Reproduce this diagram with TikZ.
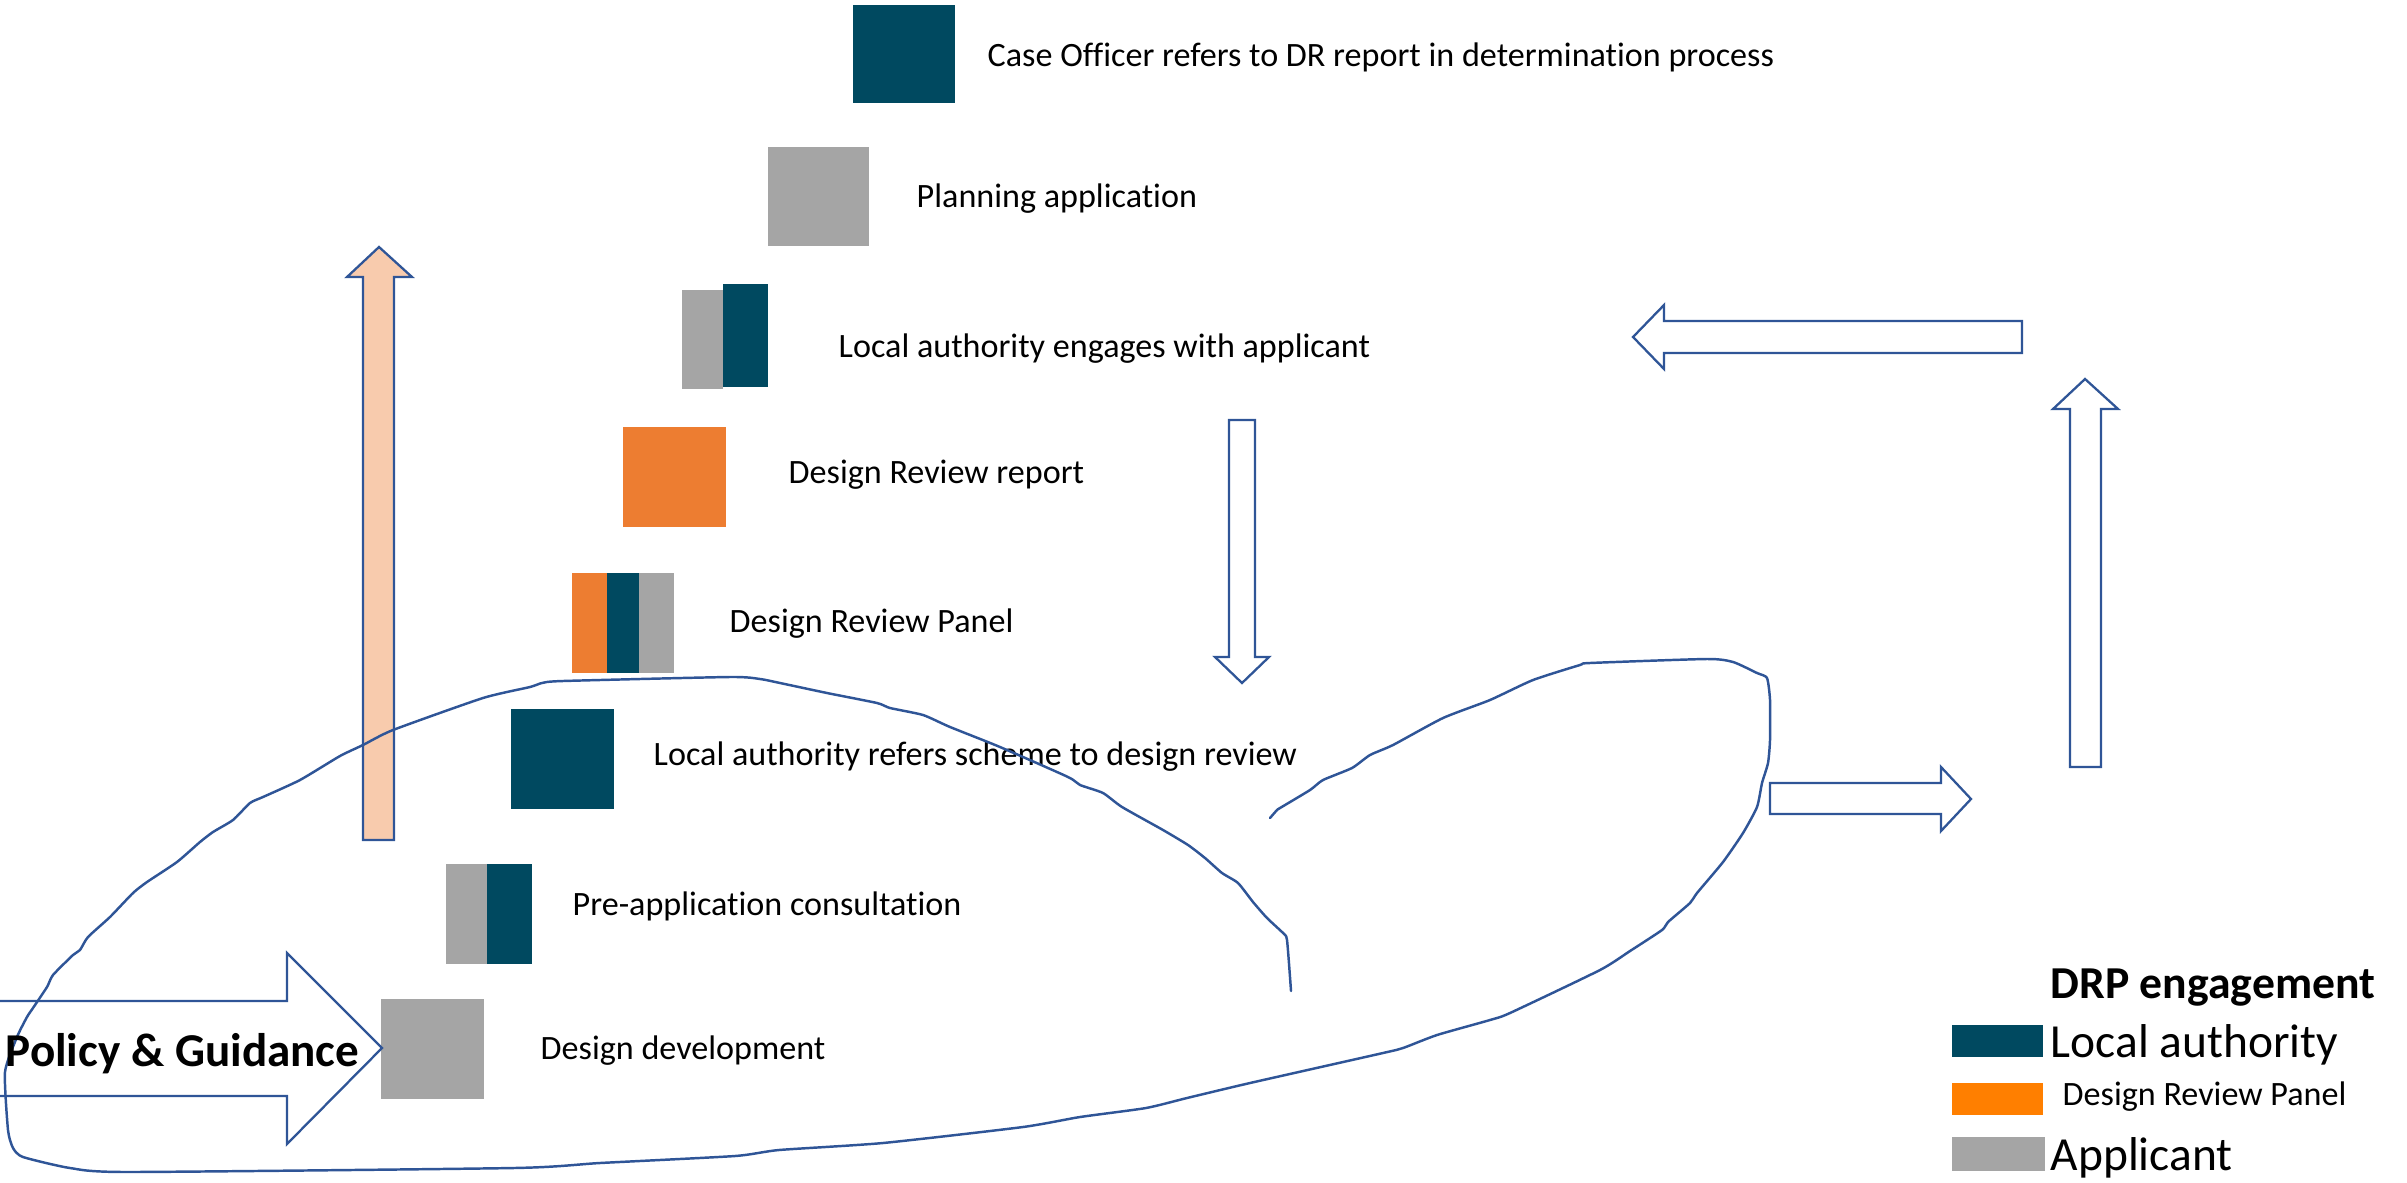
\documentclass[tikz,border=0pt]{standalone}
\usepackage{fontspec}
\setmainfont{Carlito}[Ligatures=NoCommon]
\usepackage{tikz}
\usetikzlibrary{positioning,calc}

\definecolor{lacol}{RGB}{0,73,96}
\definecolor{drpcol}{RGB}{237,125,49}
\definecolor{drplegend}{RGB}{255,127,0}
\definecolor{appcol}{RGB}{165,165,165}
\definecolor{peach}{RGB}{248,203,173}
\definecolor{inkblue}{RGB}{47,85,151}

\begin{document}
\begin{tikzpicture}[
    x=0.01cm, y=-0.01cm,
    box/.style={rectangle, anchor=north west, inner sep=0, outer sep=0, draw=none},
    steptext/.style={anchor=base west, inner sep=0, font=\fontsize{9.7}{11}\selectfont},
    legtext/.style={anchor=base west, inner sep=0, font=\fontsize{13.5}{16}\selectfont},
    blockarrow/.style={draw=inkblue, line width=0.65pt, fill=white, line join=miter},
    freehand/.style={draw=inkblue, line width=0.7pt, line cap=round, line join=round}
]
    \useasboundingbox (0,0) rectangle (2407,1182);

    % Steps, top to bottom
    \node[box, fill=lacol, minimum width=1.02cm, minimum height=0.98cm] (officer) at (853,5) {};
    \node[steptext] (officertext) at (987,67) {Case Officer refers to DR report in determination process};

    \node[box, fill=appcol, minimum width=1.01cm, minimum height=0.99cm] (planning) at (768,147) {};
    \node[steptext] (planningtext) at (916,208) {Planning application};

    \node[box, fill=appcol, minimum width=0.41cm, minimum height=0.99cm] (engageA) at (682,290) {};
    \node[box, fill=lacol, minimum width=0.45cm, minimum height=1.03cm] (engageB) at (723,284) {};
    \node[steptext] (engagetext) at (838,357) {Local authority engages with applicant};

    \node[box, fill=drpcol, minimum width=1.03cm, minimum height=1.00cm] (report) at (623,427) {};
    \node[steptext] (reporttext) at (788,483) {Design Review report};

    \node[box, fill=drpcol, minimum width=0.35cm, minimum height=1.00cm] (panelA) at (572,573) {};
    \node[box, fill=lacol, minimum width=0.32cm, minimum height=1.00cm] (panelB) at (607,573) {};
    \node[box, fill=appcol, minimum width=0.35cm, minimum height=1.00cm] (panelC) at (639,573) {};
    \node[steptext] (paneltext) at (729,632) {Design Review Panel};

    \node[box, fill=lacol, minimum width=1.03cm, minimum height=1.00cm] (refers) at (511,709) {};
    \node[steptext] (referstext) at (653,765) {Local authority refers scheme to design review};

    \node[box, fill=appcol, minimum width=0.41cm, minimum height=1.00cm] (preappA) at (446,864) {};
    \node[box, fill=lacol, minimum width=0.45cm, minimum height=1.00cm] (preappB) at (487,864) {};
    \node[steptext] (preapptext) at (572,915) {Pre-application consultation};

    \node[box, fill=appcol, minimum width=1.03cm, minimum height=1.00cm] (develop) at (381,999) {};
    \node[steptext] (developtext) at (540,1059) {Design development};

    % Block arrows
    \draw[blockarrow, fill=peach] (363,840) -- (363,277) -- (347,277) -- (379,247)
        -- (412,277) -- (394,277) -- (394,840) -- cycle;
    \draw[blockarrow] (-10,1001) -- (287,1001) -- (287,953) -- (382,1048)
        -- (287,1144) -- (287,1096) -- (-10,1096) -- cycle;
    \draw[blockarrow] (1229,420) -- (1255,420) -- (1255,657) -- (1269,657)
        -- (1242,683) -- (1215,657) -- (1229,657) -- cycle;
    \draw[blockarrow] (1770,783) -- (1941,783) -- (1941,767) -- (1971,799)
        -- (1941,831) -- (1941,814) -- (1770,814) -- cycle;
    \draw[blockarrow] (2070,767) -- (2070,409) -- (2053,409) -- (2085,379)
        -- (2118,409) -- (2101,409) -- (2101,767) -- cycle;
    \draw[blockarrow] (2022,321) -- (1664,321) -- (1664,305) -- (1633,337)
        -- (1664,369) -- (1664,353) -- (2022,353) -- cycle;

    % Hand-drawn loop
    \draw[freehand] plot[smooth, tension=0.35] coordinates {
        (1291,991) (1287,940) (1283,933) (1267,918) (1253,902) (1238,883)
        (1222,873) (1205,858) (1188,845) (1163,830) (1122,807) (1103,793)
        (1080,785) (1068,777) (1000,747) (950,727) (923,715) (890,708)
        (877,703) (827,693) (780,683) (760,679) (730,677) (563,681)
        (542,683) (530,687) (483,698) (393,730) (363,745) (340,756)
        (300,780) (263,797) (250,803) (233,820) (213,832) (200,842)
        (177,862) (147,882) (133,893) (110,917) (88,937) (80,950)
        (73,955) (53,975) (47,987) (33,1008) (27,1017) (17,1037)
        (5,1072) (8,1130) (13,1148) (23,1157) (70,1168) (129,1172)
        (514,1168) (600,1163) (735,1156) (779,1150) (883,1143) (1023,1127)
        (1080,1117) (1146,1108) (1187,1098) (1250,1083) (1383,1053) (1403,1048)
        (1437,1035) (1490,1020) (1510,1013) (1600,970) (1630,951) (1662,930)
        (1668,922) (1690,903) (1697,893) (1723,862) (1743,833) (1757,807)
        (1762,783) (1768,763) (1770,740) (1770,700) (1767,678) (1757,673)
        (1733,662) (1707,659) (1590,663) (1580,665) (1533,680) (1490,700)
        (1443,718) (1393,745) (1370,755) (1352,768) (1323,780) (1310,790)
        (1280,808) (1277,810) (1270,818)};

    \node[anchor=base west, inner sep=0, font=\fontsize{13.4}{16}\selectfont\bfseries] (policy) at (5,1066) {Policy \& Guidance};

    % Legend
    \node[anchor=base west, inner sep=0, font=\fontsize{13}{15}\selectfont\bfseries] (legtitle) at (2050,998) {DRP engagement};
    \node[box, fill=lacol, minimum width=0.91cm, minimum height=0.32cm] (keyla) at (1952,1025) {};
    \node[legtext] (keylatext) at (2050,1057) {Local authority};
    \node[box, fill=drplegend, minimum width=0.91cm, minimum height=0.32cm] (keydrp) at (1952,1083) {};
    \node[steptext] (keydrptext) at (2062,1105) {Design Review Panel};
    \node[box, fill=appcol, minimum width=0.93cm, minimum height=0.34cm] (keyapp) at (1952,1137) {};
    \node[legtext] (keyapptext) at (2050,1170) {Applicant};
\end{tikzpicture}
\end{document}
